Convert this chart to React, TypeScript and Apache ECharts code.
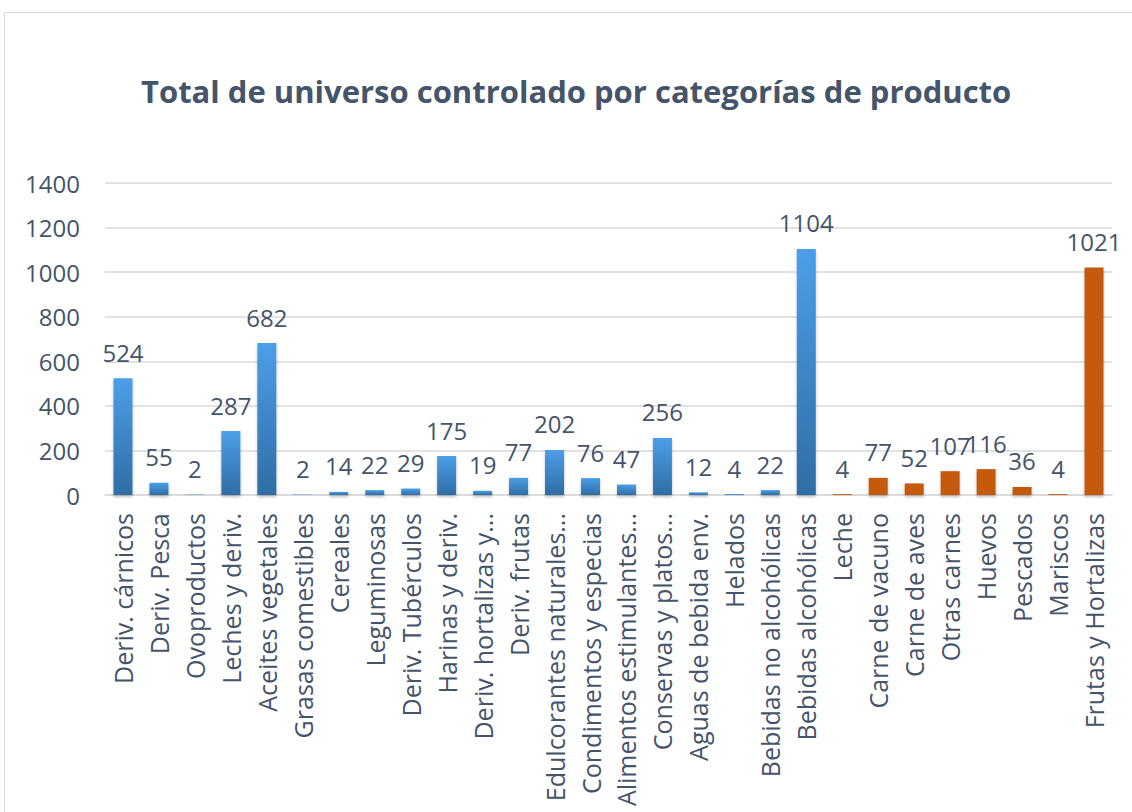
import React, { useEffect, useRef } from "react";
import * as echarts from "echarts";

const TITLE = "Total de universo controlado por categorías de producto";

const processedCategories = [
  "Deriv. cárnicos",
  "Deriv. Pesca",
  "Ovoproductos",
  "Leches y deriv.",
  "Aceites vegetales",
  "Grasas comestibles",
  "Cereales",
  "Leguminosas",
  "Deriv. Tubérculos",
  "Harinas y deriv.",
  "Deriv. hortalizas y...",
  "Deriv. frutas",
  "Edulcorantes naturales...",
  "Condimentos y especias",
  "Alimentos estimulantes...",
  "Conservas y platos...",
  "Aguas de bebida env.",
  "Helados",
  "Bebidas no alcohólicas",
  "Bebidas alcohólicas",
];
const processedValues = [524, 55, 2, 287, 682, 2, 14, 22, 29, 175, 19, 77, 202, 76, 47, 256, 12, 4, 22, 1104];

const freshCategories = [
  "Leche",
  "Carne de vacuno",
  "Carne de aves",
  "Otras carnes",
  "Huevos",
  "Pescados",
  "Mariscos",
  "Frutas y Hortalizas",
];
const freshValues = [4, 77, 52, 107, 116, 36, 4, 1021];

const yTicks = [0, 200, 400, 600, 800, 1000, 1200, 1400];

const TEXT = "#44546a";
const FONT = "Open Sans";

export default function App() {
  const ref = useRef<HTMLDivElement>(null);
  useEffect(() => {
    if (!ref.current) return;
    const chart = echarts.init(ref.current, undefined, { renderer: "svg" });
    const blue = new echarts.graphic.LinearGradient(0, 0, 0, 1, [
      { offset: 0, color: "#4b9fe8" },
      { offset: 1, color: "#2f6da6" },
    ]);
    const categories = [...processedCategories, ...freshCategories];
    const data = [
      ...processedValues.map((v) => ({ value: v, itemStyle: { color: blue } })),
      ...freshValues.map((v) => ({ value: v, itemStyle: { color: "#c55a11" } })),
    ];
    chart.setOption({
      animation: false,
      backgroundColor: "#ffffff",
      title: {
        text: TITLE,
        left: 136,
        top: 70,
        textStyle: { fontFamily: FONT, fontSize: 31, fontWeight: "bold", color: TEXT },
      },
      graphic: [
        {
          type: "rect",
          shape: { x: 4.5, y: 12.5, width: 1200, height: 900 },
          style: { fill: "none", stroke: "#d9d9d9", lineWidth: 1 },
          silent: true,
        },
      ],
      grid: { left: 105, right: 20, top: 183, bottom: 317, containLabel: false },
      xAxis: {
        type: "category",
        data: categories,
        axisLine: { show: true, lineStyle: { color: "#d9d9d9", width: 1.5 } },
        axisTick: { show: false },
        axisLabel: {
          rotate: 90,
          interval: 0,
          margin: 18,
          fontFamily: FONT,
          fontSize: 25,
          color: TEXT,
        },
      },
      yAxis: {
        type: "value",
        min: yTicks[0],
        max: yTicks[yTicks.length - 1],
        interval: 200,
        axisLine: { show: false },
        axisTick: { show: false },
        splitLine: { lineStyle: { color: "#d9d9d9", width: 1.5 } },
        axisLabel: {
          margin: 25,
          fontFamily: FONT,
          fontSize: 24,
          color: TEXT,
          formatter: (v: number) => String(v),
        },
      },
      series: [
        {
          type: "bar",
          data,
          barWidth: 19,
          itemStyle: {
            shadowColor: "rgba(0,0,0,0.25)",
            shadowBlur: 3,
            shadowOffsetY: 2,
          },
          label: {
            show: true,
            position: "top",
            distance: 14,
            fontFamily: FONT,
            fontSize: 24,
            color: TEXT,
          },
        },
      ],
    });
    return () => chart.dispose();
  }, []);
  return (
    <div
      ref={ref}
      style={{ position: "absolute", left: 0, top: 0, width: 1132, height: 812 }}
    />
  );
}
